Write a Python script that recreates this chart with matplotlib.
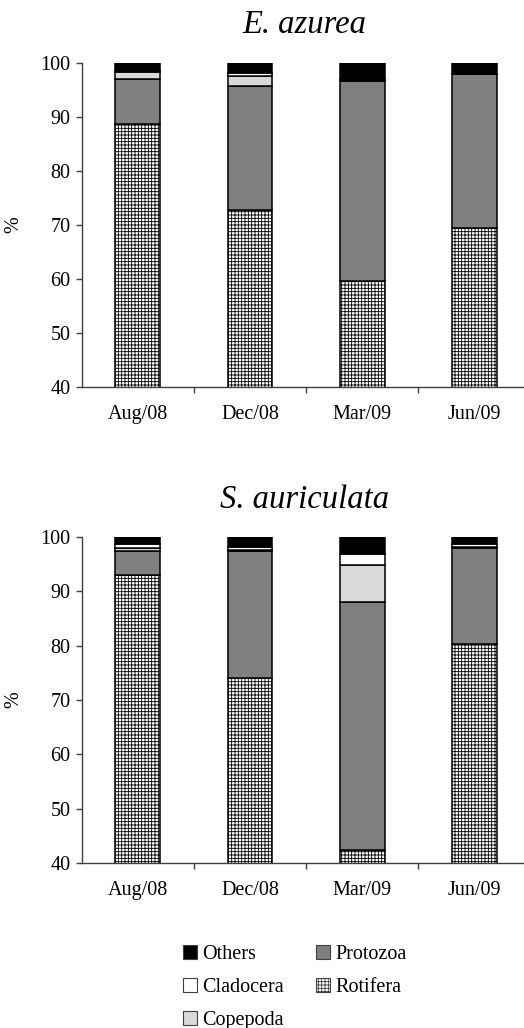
import numpy as np
import matplotlib
matplotlib.use("Agg")
import matplotlib.pyplot as plt
from matplotlib.patches import Patch

plt.rcParams['font.family'] = ['Liberation Serif', 'DejaVu Serif']
plt.rcParams['hatch.linewidth'] = 0.6

months = ['Aug/08', 'Dec/08', 'Mar/09', 'Jun/09']
groups = ['Rotifera', 'Protozoa', 'Copepoda', 'Cladocera', 'Others']

# E. azurea (%)
eaz_rotifera = [88.7, 72.8, 59.6, 69.4]
eaz_protozoa = [8.3, 22.8, 37.0, 28.5]
eaz_copepoda = [1.2, 1.9, 0.2, 0.0]
eaz_cladocera = [0.3, 0.5, 0.2, 0.0]
eaz_others = [1.5, 2.0, 3.0, 2.1]

# S. auriculata (%)
sau_rotifera = [92.9, 74.0, 42.4, 80.3]
sau_protozoa = [4.4, 23.3, 45.6, 17.6]
sau_copepoda = [0.6, 0.2, 6.8, 0.2]
sau_cladocera = [0.8, 0.7, 2.1, 0.5]
sau_others = [1.3, 1.8, 3.1, 1.4]

colors = {'Rotifera': 'white', 'Protozoa': '#808080', 'Copepoda': '#d9d9d9',
          'Cladocera': 'white', 'Others': 'black'}
hatches = {'Rotifera': '+++++', 'Protozoa': None, 'Copepoda': None,
           'Cladocera': None, 'Others': None}

fig = plt.figure(figsize=(5.24, 10.28), dpi=100)
ax1 = fig.add_axes([0.156, 0.6233, 0.85, 0.3158])
ax2 = fig.add_axes([0.156, 0.1602, 0.85, 0.3177])


def draw(ax, data, title):
    x = np.arange(len(months))
    bottom = np.zeros(len(months))
    for g, vals in zip(groups, data):
        vals = np.array(vals)
        ax.bar(x, vals, 0.4, bottom=bottom, color=colors[g], hatch=hatches[g],
               edgecolor='black', linewidth=1.1, zorder=2)
        bottom += vals
    ax.set_ylim(40, 100)
    ax.set_xlim(-0.5, 3.47)
    ax.set_yticks(range(40, 101, 10))
    ax.set_xticks(x)
    ax.set_xticklabels(months)
    ax.set_xticks([0.5, 1.5, 2.5], minor=True)
    ax.tick_params(axis='x', which='major', length=0, pad=13, labelsize=14.5)
    ax.tick_params(axis='x', which='minor', length=4, width=1, color='#404040', direction='out')
    ax.tick_params(axis='y', length=4, width=1, color='#404040', labelsize=14.5, pad=4)
    for s in ['top', 'right']:
        ax.spines[s].set_visible(False)
    for s in ['left', 'bottom']:
        ax.spines[s].set_color('#404040')
        ax.spines[s].set_linewidth(1)
    ax.set_ylabel('%', fontsize=14.5)
    ax.yaxis.set_label_coords(-0.13, 0.5)
    ax.set_title(title, fontsize=23.5, style='italic', pad=21)


draw(ax1, [eaz_rotifera, eaz_protozoa, eaz_copepoda, eaz_cladocera, eaz_others], 'E. azurea')
draw(ax2, [sau_rotifera, sau_protozoa, sau_copepoda, sau_cladocera, sau_others], 'S. auriculata')

order = ['Others', 'Cladocera', 'Copepoda', 'Protozoa', 'Rotifera']
handles = [Patch(facecolor=colors[g], hatch=hatches[g], edgecolor='#404040', linewidth=0.8)
           for g in order]
fig.legend(handles, order, loc='upper left', bbox_to_anchor=(0.33, 0.091), ncol=2,
           frameon=False, fontsize=14.5, handlelength=0.7, handleheight=0.7,
           handletextpad=0.25, columnspacing=1.6, labelspacing=0.7, borderpad=0)

fig.savefig('out.png', dpi=100)
